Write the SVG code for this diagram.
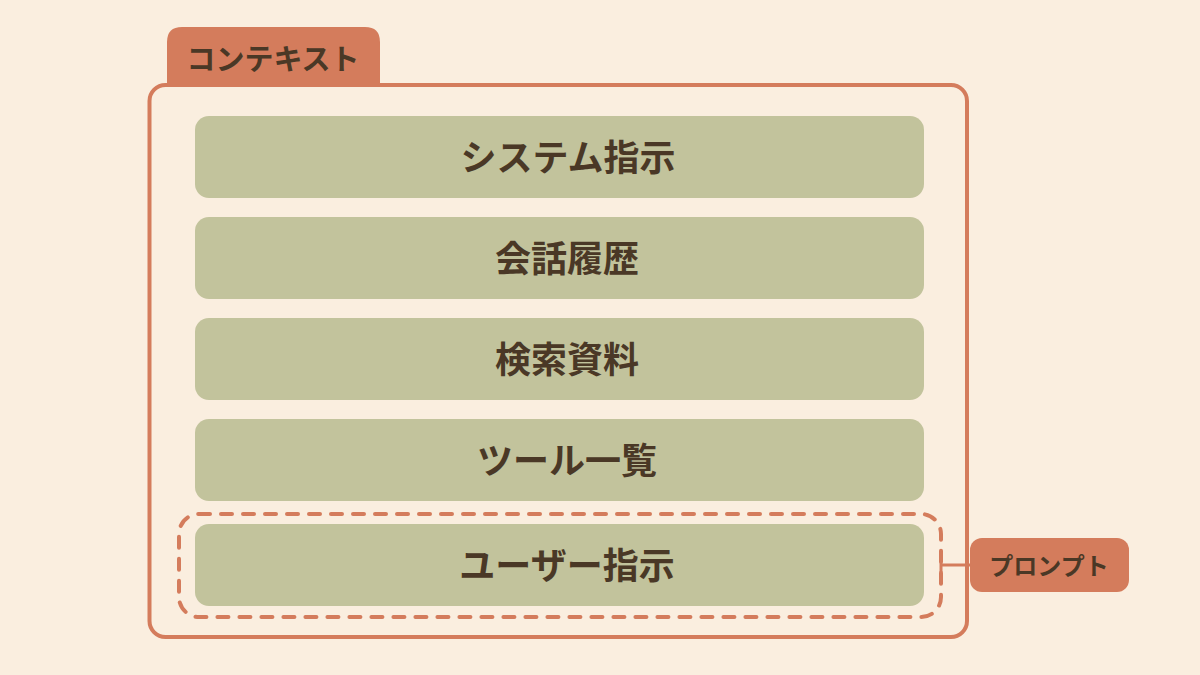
<svg xmlns="http://www.w3.org/2000/svg" width="1200" height="675" viewBox="0 0 1200 675">
<style>
.bar{fill:#c2c39c}
.lbl{font-family:"Noto Sans CJK JP","Noto Sans",sans-serif;font-weight:700;fill:#4a3826;text-anchor:middle;dominant-baseline:central}
.main{font-size:36px}
.tag{fill:#d47c5c}
.line{stroke:#d47c5c;fill:none}
</style>
<rect width="1200" height="675" fill="#faeedf"/>
<g id="context">
<path class="tag" d="M167 84 V42 Q167 27 182 27 H365 Q380 27 380 42 V84 Z"/>
<rect class="line" x="149.5" y="85" width="817.5" height="552" rx="16" stroke-width="4"/>
<text class="lbl" x="273" y="57" font-size="29">コンテキスト</text>
</g>
<g id="system">
<rect class="bar" x="195" y="116" width="729" height="82" rx="14"/>
<text class="lbl main" x="568" y="155">システム指示</text>
</g>
<g id="history">
<rect class="bar" x="195" y="217" width="729" height="82" rx="14"/>
<text class="lbl main" x="567" y="256">会話履歴</text>
</g>
<g id="retrieval">
<rect class="bar" x="195" y="318" width="729" height="82" rx="14"/>
<text class="lbl main" x="567" y="357">検索資料</text>
</g>
<g id="tools">
<rect class="bar" x="195" y="419" width="729" height="82" rx="14"/>
<text class="lbl main" x="567" y="458">ツール一覧</text>
</g>
<g id="user">
<rect class="bar" x="195" y="524" width="729" height="82" rx="14"/>
<text class="lbl main" x="567" y="563">ユーザー指示</text>
</g>
<g id="prompt-frame">
<rect class="line" x="179" y="514" width="762" height="103" rx="20" stroke-width="4" stroke-dasharray="11 11" stroke-linecap="round"/>
</g>
<g id="prompt">
<rect class="tag" x="970" y="538" width="159" height="54" rx="12"/>
<text class="lbl" x="1049" y="564" font-size="24">プロンプト</text>
</g>
<g id="connectors">
<line class="line" x1="941" y1="565" x2="970" y2="565" stroke-width="3"/>
<line class="line" x1="941" y1="558" x2="941" y2="572" stroke-width="3"/>
</g>
</svg>
